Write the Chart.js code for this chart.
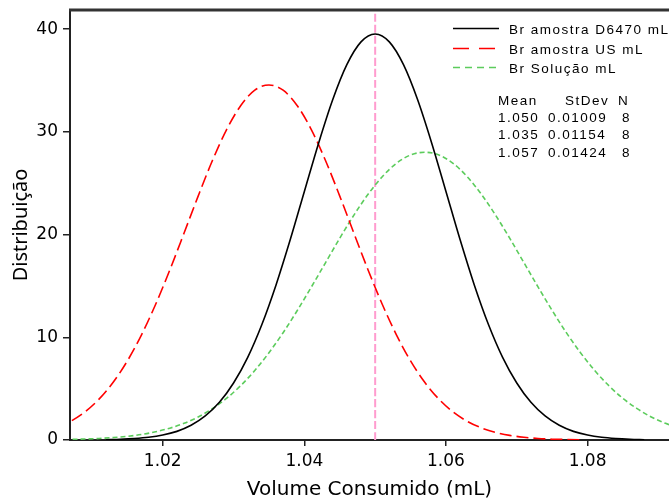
<!DOCTYPE html>
<html>
<head>
<meta charset="utf-8">
<script src="https://cdn.jsdelivr.net/npm/chart.js@4.4.1/dist/chart.umd.min.js"></script>
<style>
  html, body { margin: 0; padding: 0; background: #fff; }
  canvas { display: block; }
</style>
</head>
<body>
<canvas id="dist" width="669" height="503"></canvas>
<script>
// curves (Volume Consumido in mL -> Distribuição)
const d6470X = [1.012, 1.014, 1.016, 1.018, 1.020, 1.022, 1.024, 1.026, 1.028, 1.030,
  1.032, 1.034, 1.036, 1.038, 1.040, 1.042, 1.044, 1.046, 1.048, 1.050,
  1.052, 1.054, 1.056, 1.058, 1.060, 1.062, 1.064, 1.066, 1.068, 1.070,
  1.072, 1.074, 1.076, 1.078, 1.080, 1.082, 1.084, 1.086, 1.088];
const d6470Y = [0.03, 0.07, 0.14, 0.26, 0.48, 0.84, 1.43, 2.34, 3.67, 5.55,
  8.05, 11.25, 15.10, 19.49, 24.20, 28.88, 33.13, 36.55, 38.77, 39.54,
  38.77, 36.55, 33.13, 28.88, 24.20, 19.49, 15.10, 11.25, 8.05, 5.55,
  3.67, 2.34, 1.43, 0.84, 0.48, 0.26, 0.14, 0.07, 0.03];

const usX = [1.005, 1.007, 1.009, 1.011, 1.013, 1.015, 1.017, 1.019, 1.021, 1.023,
  1.025, 1.027, 1.029, 1.031, 1.033, 1.035, 1.037, 1.039, 1.041, 1.043,
  1.045, 1.047, 1.049, 1.051, 1.053, 1.055, 1.057, 1.059, 1.061, 1.063,
  1.065, 1.067, 1.069, 1.071, 1.073, 1.075, 1.077, 1.079];
const usY = [1.18, 1.82, 2.73, 3.98, 5.62, 7.70, 10.24, 13.22, 16.56, 20.13,
  23.75, 27.19, 30.20, 32.55, 34.06, 34.57, 34.06, 32.55, 30.20, 27.19,
  23.75, 20.13, 16.56, 13.22, 10.24, 7.70, 5.62, 3.98, 2.73, 1.82,
  1.18, 0.74, 0.45, 0.27, 0.15, 0.08, 0.05, 0.02];

const solX = [1.005, 1.007, 1.009, 1.011, 1.013, 1.015, 1.017, 1.019, 1.021, 1.023,
  1.025, 1.027, 1.029, 1.031, 1.033, 1.035, 1.037, 1.039, 1.041, 1.043,
  1.045, 1.047, 1.049, 1.051, 1.053, 1.055, 1.057, 1.059, 1.061, 1.063,
  1.065, 1.067, 1.069, 1.071, 1.073, 1.075, 1.077, 1.079, 1.081, 1.083,
  1.085, 1.087, 1.089, 1.091, 1.093];
const solY = [0.04, 0.06, 0.10, 0.15, 0.24, 0.36, 0.54, 0.80, 1.15, 1.62,
  2.24, 3.05, 4.05, 5.29, 6.77, 8.50, 10.45, 12.61, 14.91, 17.28,
  19.65, 21.90, 23.93, 25.64, 26.94, 27.75, 28.02, 27.75, 26.94, 25.64,
  23.93, 21.90, 19.65, 17.28, 14.91, 12.61, 10.45, 8.50, 6.77, 5.29,
  4.05, 3.05, 2.24, 1.62, 1.15];

const refLineX = [1.050, 1.050];
const refLineY = [0, 41.87];

const seriesNames = ['Br amostra D6470 mL', 'Br amostra US mL', 'Br Solução mL'];
const statsHeader = ['Mean', 'StDev', 'N'];
const statsRows = [
  ['1.050', '0.01009', '8'],
  ['1.035', '0.01154', '8'],
  ['1.057', '0.01424', '8']
];
const xTicks = [1.02, 1.04, 1.06, 1.08];

const toPts = (xs, ys) => xs.map((x, i) => ({ x, y: ys[i] }));

const colors = ['#000000', '#ff0000', '#5ccc5c'];
const dashes = [[], [12, 5], [5, 3]];
const legendDashes = [[], [16, 10], [7, 5]];

// legend, stats box and top frame line
const overlay = {
  id: 'overlay',
  afterDraw(chart) {
    const ctx = chart.ctx;
    const area = chart.chartArea;
    ctx.save();
    ctx.strokeStyle = '#333';
    ctx.lineWidth = 3;
    ctx.beginPath();
    ctx.moveTo(area.left - 1, area.top);
    ctx.lineTo(chart.width, area.top);
    ctx.stroke();

    ctx.font = '13.5px "Liberation Sans", Arial, sans-serif';
    ctx.letterSpacing = '1.5px';
    ctx.fillStyle = '#000';
    ctx.textBaseline = 'alphabetic';
    const lineY = [28.5, 48.5, 67.5];
    seriesNames.forEach((name, i) => {
      ctx.strokeStyle = colors[i];
      ctx.lineWidth = 1.6;
      ctx.setLineDash(legendDashes[i]);
      ctx.beginPath();
      ctx.moveTo(453, lineY[i]);
      ctx.lineTo(499, lineY[i]);
      ctx.stroke();
      ctx.fillText(name, 509, lineY[i] + 5);
    });
    ctx.setLineDash([]);

    const hx = [498, 565, 618];
    statsHeader.forEach((h, i) => ctx.fillText(h, hx[i], 105));
    const cx = [498, 548, 622];
    const rowY = [122, 139, 156.5];
    statsRows.forEach((row, r) => {
      row.forEach((cell, c) => ctx.fillText(cell, cx[c], rowY[r]));
    });
    ctx.restore();
  }
};

const tickFont = { family: '"DejaVu Sans", Verdana, sans-serif', size: 17 };

new Chart(document.getElementById('dist'), {
  type: 'line',
  data: {
    datasets: [
      { label: seriesNames[0], data: toPts(d6470X, d6470Y), borderColor: colors[0], borderDash: dashes[0] },
      { label: seriesNames[1], data: toPts(usX, usY), borderColor: colors[1], borderDash: dashes[1] },
      { label: seriesNames[2], data: toPts(solX, solY), borderColor: colors[2], borderDash: dashes[2] },
      { label: 'ref', data: toPts(refLineX, refLineY), borderColor: '#ff9ccf', borderDash: [8, 3], borderWidth: 2 }
    ]
  },
  options: {
    responsive: false,
    animation: false,
    devicePixelRatio: 1,
    layout: { padding: { top: 10, right: 0, left: 0, bottom: 0 } },
    elements: {
      point: { radius: 0 },
      line: { borderWidth: 1.6, fill: false, cubicInterpolationMode: 'monotone' }
    },
    plugins: {
      legend: { display: false },
      tooltip: { enabled: false }
    },
    scales: {
      x: {
        type: 'linear',
        min: 1.0069,
        max: 1.0915,
        afterFit: s => { s.height = 63; s.paddingLeft = 0; s.paddingRight = 0; },
        afterBuildTicks: s => { s.ticks = xTicks.map(v => ({ value: v })); },
        ticks: {
          callback: v => v.toFixed(2),
          font: tickFont,
          color: '#000',
          padding: 5,
          maxRotation: 0
        },
        grid: { drawOnChartArea: false, drawTicks: true, tickLength: 6, color: '#222', lineWidth: 1.5 },
        border: { display: true, color: '#222', width: 2 },
        title: {
          display: true,
          text: 'Volume Consumido (mL)',
          color: '#000',
          font: { family: '"DejaVu Sans", Verdana, sans-serif', size: 20 },
          padding: { top: 0, bottom: 1 }
        }
      },
      y: {
        min: 0,
        max: 41.87,
        afterFit: s => { s.width = 70; s.paddingTop = 0; s.paddingBottom = 0; },
        ticks: {
          stepSize: 10,
          includeBounds: false,
          font: tickFont,
          color: '#000',
          padding: 5
        },
        grid: { drawOnChartArea: false, drawTicks: true, tickLength: 7, color: '#222', lineWidth: 1.5 },
        border: { display: true, color: '#222', width: 2 },
        title: {
          display: true,
          text: 'Distribuição',
          color: '#000',
          font: { family: '"Noto Sans", sans-serif', size: 20 },
          padding: { top: 9, bottom: 0 }
        }
      }
    }
  },
  plugins: [overlay]
});
</script>
</body>
</html>
